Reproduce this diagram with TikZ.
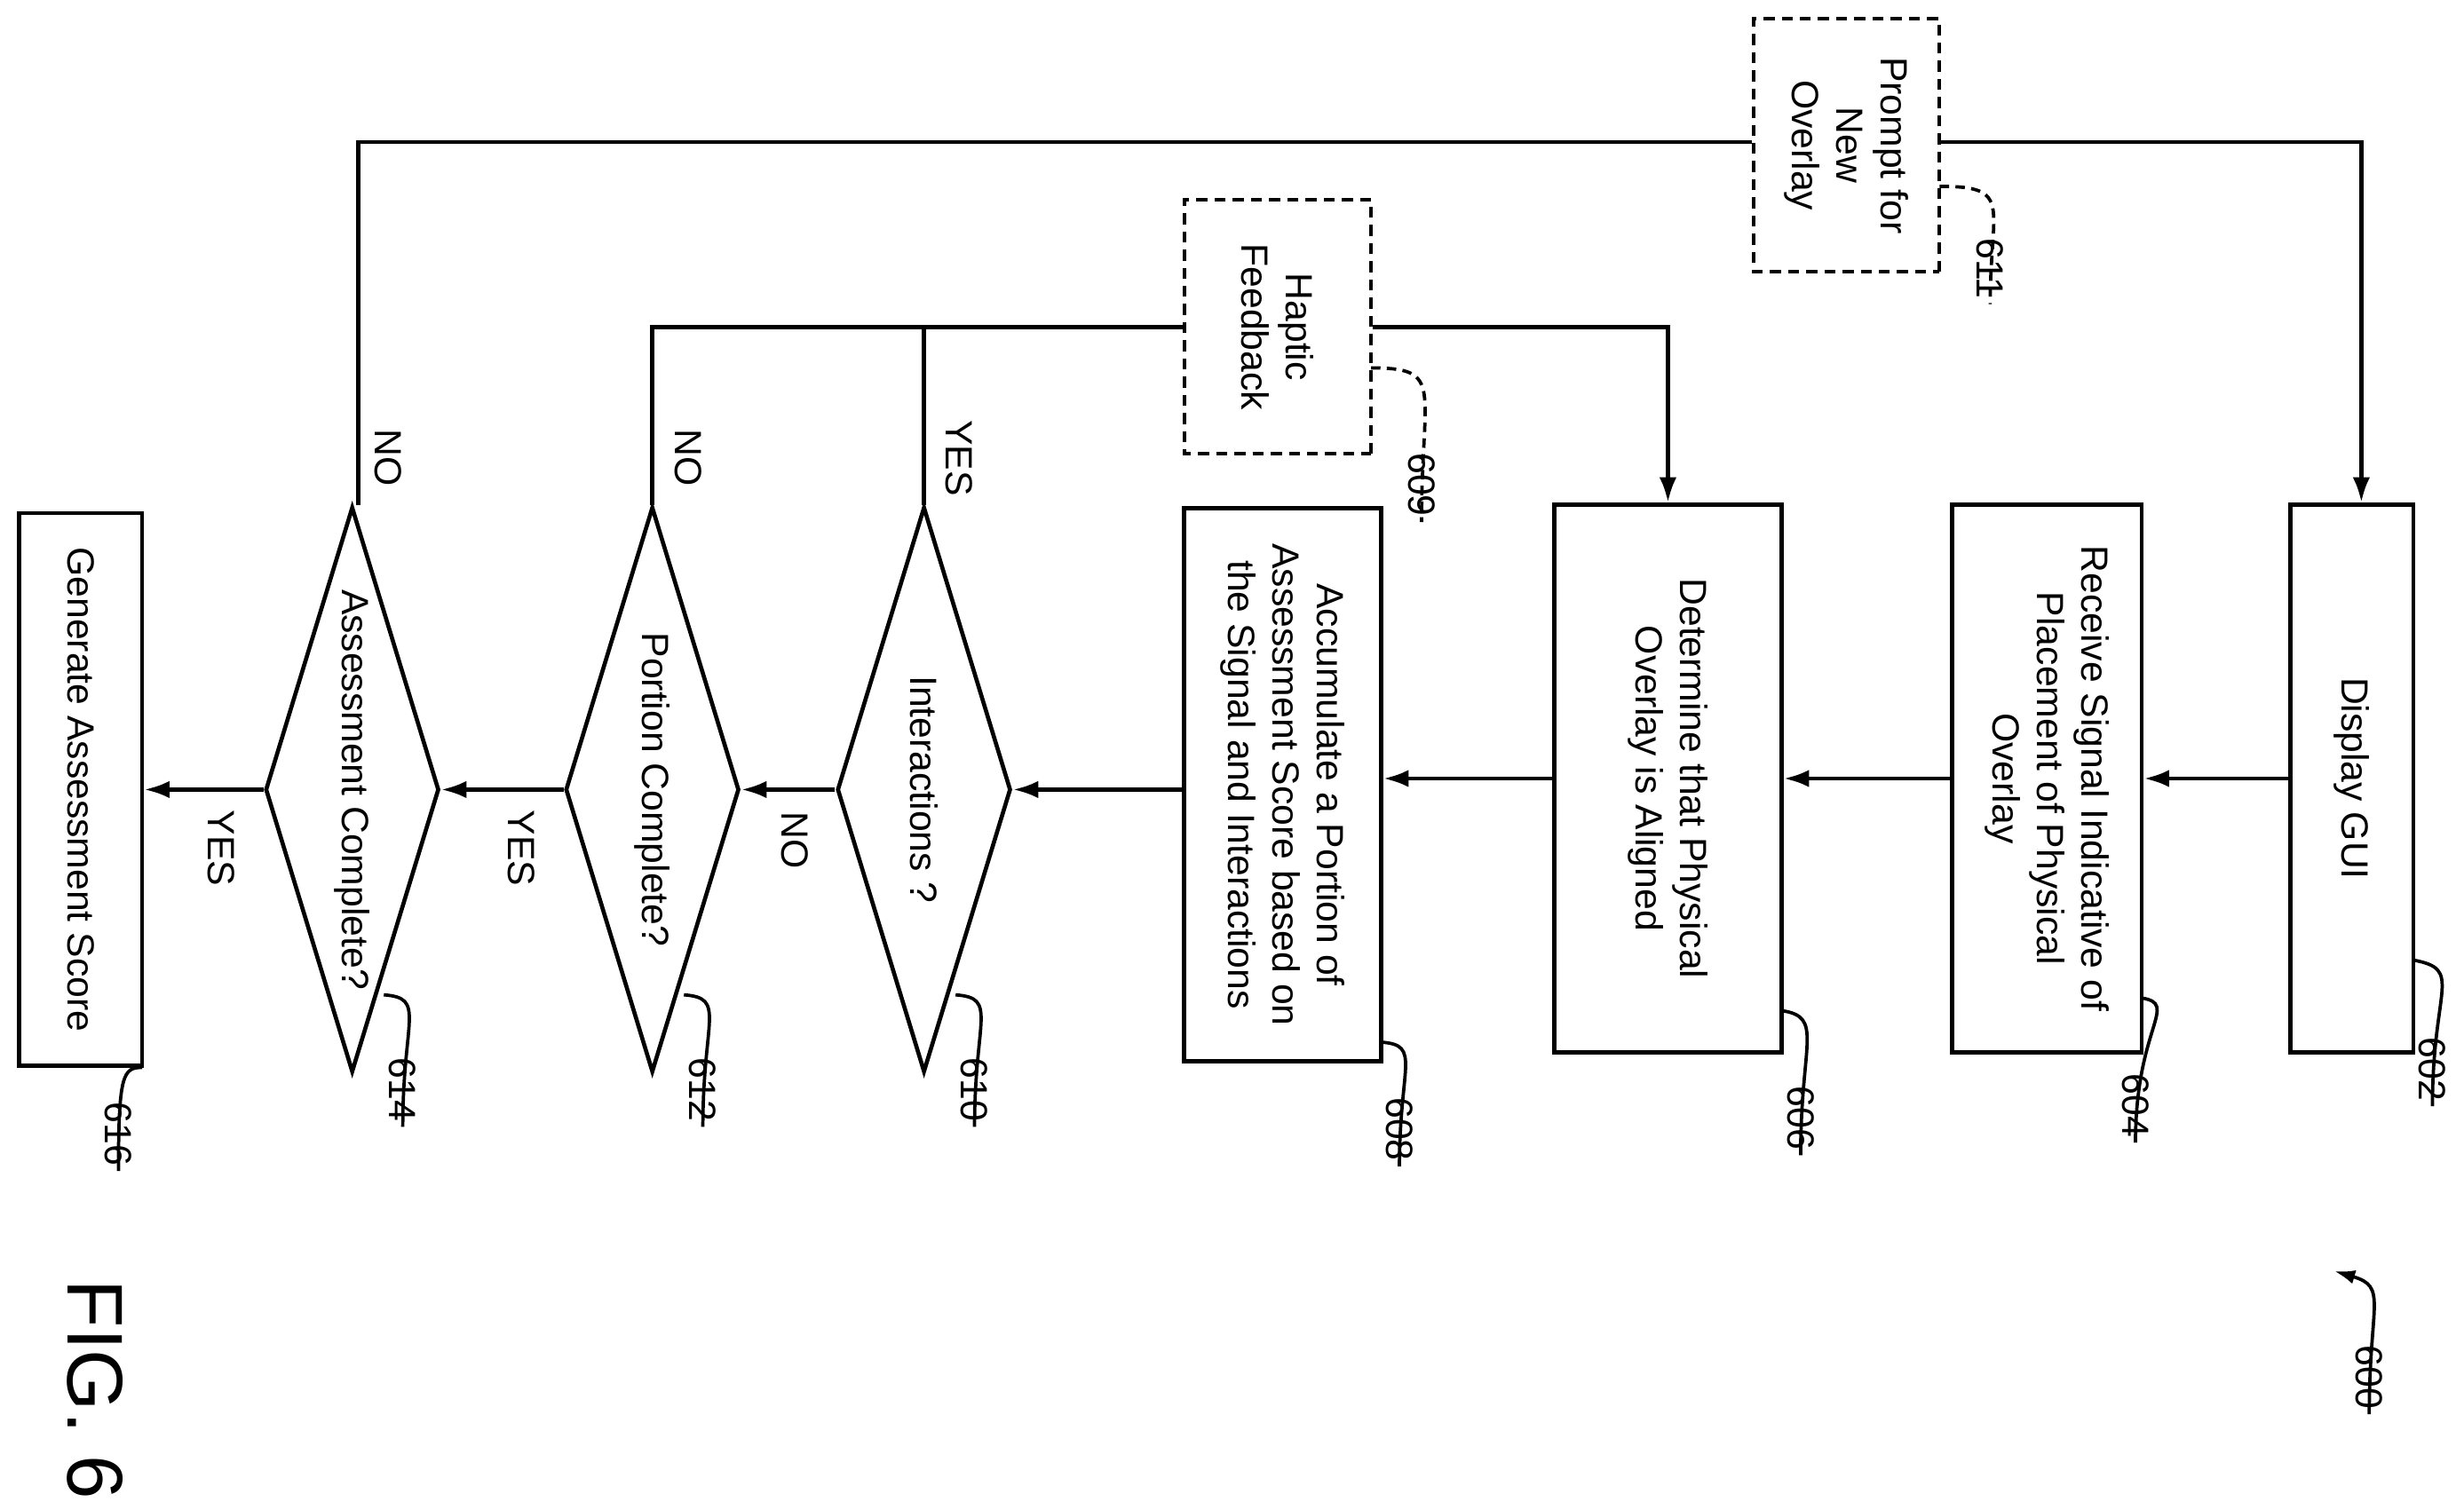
\documentclass[tikz,border=0pt]{standalone}
\usepackage{fontspec}
\setmainfont{Liberation Sans}
\usetikzlibrary{shapes.geometric,arrows.meta}
\begin{document}
\begin{tikzpicture}[x=1pt,y=-1pt,
  every node/.style={font=\fontsize{24}{28}\selectfont},
  box/.style={draw,line width=2.6pt,rotate=-90,align=center,inner sep=0pt},
  dbox/.style={box,line width=2.3pt,dash pattern=on 7pt off 4.5pt},
  dia/.style={draw,line width=2.6pt,diamond,aspect=3.25,rotate=-90,inner sep=0pt,minimum width=358pt,minimum height=110pt},
  num/.style={rotate=-90,font=\fontsize{24}{28}\selectfont},
  ln/.style={line width=2.6pt},
  arr/.style={ln,-{Latex[length=16pt,width=11pt]}},
  lead/.style={line width=2.1pt}]
\useasboundingbox (0,0) rectangle (1560,955.7);
\node[box,minimum width=347pt,minimum height=78pt] (b602) at (1489,493) {Display GUI};
\node[box,minimum width=347pt,minimum height=120pt] (b604) at (1296,493) {Receive Signal Indicative of\\Placement of Physical\\Overlay};
\node[box,minimum width=347pt,minimum height=144pt] (b606) at (1056,493) {Determine that Physical\\Overlay is Aligned};
\node[box,minimum width=350pt,minimum height=125pt] (b608) at (812,497) {Accumulate a Portion of\\Assessment Score based on\\the Signal and Interactions};
\node[dia] (d610) at (585,500) {Interactions ?};
\node[dia] (d612) at (413,500) {Portion Complete?};
\node[dia] (d614) at (223,500) {Assessment Complete?};
\node[box,minimum width=350pt,minimum height=78pt] (b616) at (51,500) {Generate Assessment Score};
\node[dbox,minimum width=161pt,minimum height=118pt] (b609) at (809,207) {Haptic\\Feedback};
\node[dbox,minimum width=160pt,minimum height=118pt] (b611) at (1169,92) {Prompt for\\New\\Overlay};

\draw[arr] (b602.south) -- (b604.north);
\draw[arr] (b604.south) -- (b606.north);
\draw[arr] (b606.south) -- (b608.north |- b606.south);
\draw[arr] (b608.south |- d610.north) -- (d610.north);
\draw[arr] (d610.south) -- (d612.north);
\draw[arr] (d612.south) -- (d614.north);
\draw[arr] (d614.south) -- (b616.north |- d614.south);
\node[num] (tno1) at (503,532) {NO};
\node[num] (tyes1) at (330,537) {YES};
\node[num] (tyes2) at (140,537) {YES};

\coordinate (c610) at (585,207);
\coordinate (c612) at (413,207);
\coordinate (c606) at (1056,207);
\draw[ln] (d610.west) -- (c610);
\draw[ln] (d612.west) -- (c612) -- (b609.south);
\draw[arr] (b609.north) -- (c606) -- (b606.west);
\node[num] (tyes3) at (607,290) {YES};
\node[num] (tno2) at (436,290) {NO};
\coordinate (c614) at (227,90);
\coordinate (c602) at (1495,90);
\draw[ln] (d614.west -| c614) -- (c614) -- (b611.south |- c614);
\draw[arr] (b611.north |- c602) -- (c602) -- (b602.west -| c602);
\node[num] (tno3) at (246,290) {NO};

\node[num] (n602) at (1540,677) {602};
\draw[lead] (1528,608) .. controls (1560,614) and (1540,625) .. (n602.east);
\node[num] (n604) at (1352,700) {604};
\draw[lead] (1356,632) .. controls (1380,636) and (1352,650) .. (n604.east);
\node[num] (n606) at (1140,708) {606};
\draw[lead] (1128,640) .. controls (1155,644) and (1140,660) .. (n606.east);
\node[num] (n608) at (886,715) {608};
\draw[lead] (875,660) .. controls (900,662) and (886,675) .. (n608.east);
\node[num] (n610) at (617,690) {610};
\draw[lead] (605,630) .. controls (632,632) and (617,645) .. (n610.east);
\node[num] (n612) at (445,690) {612};
\draw[lead] (433,630) .. controls (460,632) and (445,645) .. (n612.east);
\node[num] (n614) at (255,690) {614};
\draw[lead] (243,630) .. controls (270,632) and (255,645) .. (n614.east);
\node[num] (n616) at (75,718) {616};
\draw[lead] (90,676) .. controls (78,676) and (75,680) .. (n616.east);
\node[num] (n609) at (900,307) {609};
\draw[lead,dash pattern=on 6pt off 4pt] (868,233) .. controls (915,233) and (900,245) .. (n609.east);
\node[num] (n611) at (1260,170) {611};
\draw[lead,dash pattern=on 6pt off 4pt] (1228,118) .. controls (1275,118) and (1260,130) .. (n611.east);
\node[num] (n600) at (1500,872) {600};
\draw[lead,-{Latex[length=13pt,width=9pt]}] (n600.east) .. controls (1500,825) and (1512,815) .. (1478,805);
\node[rotate=-90,font=\fontsize{50}{54}\selectfont] (fig) at (60,880) {FIG. 6};
\end{tikzpicture}
\end{document}
